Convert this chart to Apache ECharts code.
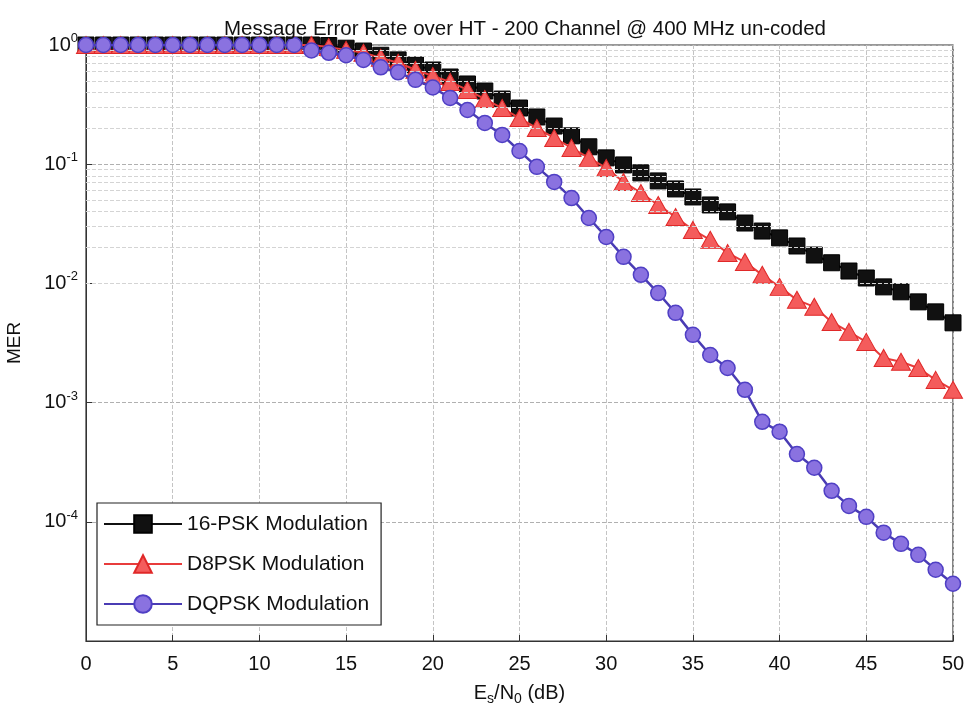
<!DOCTYPE html>
<html>
<head>
<meta charset="utf-8">
<script src="https://cdn.jsdelivr.net/npm/echarts@6/dist/echarts.min.js"></script>
<style>html,body{margin:0;padding:0;background:#fff}#c{width:975px;height:722px}</style>
</head>
<body>
<div id="c"></div>
<script>
const FONT = '"Liberation Sans", Arial, sans-serif';

const esn0 = [0,1,2,3,4,5,6,7,8,9,10,11,12,13,14,15,16,17,18,19,20,21,22,23,24,25,26,27,28,29,30,31,32,33,34,35,36,37,38,39,40,41,42,43,44,45,46,47,48,49,50];

const psk16 = [1,1,1,1,1,1,1,1,1,1,1,1,1,1,0.99,0.94,0.89,0.82,0.75,0.68,0.617,0.539,0.471,0.411,0.352,0.296,0.249,0.209,0.173,0.140,0.113,0.0986,0.0845,0.0724,0.062,0.0531,0.0455,0.0398,0.0321,0.0275,0.0241,0.0206,0.0173,0.0149,0.0127,0.0111,0.00935,0.0085,0.0070,0.00577,0.00467];

const d8psk = [1,1,1,1,1,1,1,1,1,1,1,1,1,1,0.96,0.91,0.86,0.78,0.71,0.62,0.55,0.49,0.42,0.352,0.296,0.244,0.201,0.166,0.137,0.113,0.093,0.071,0.0574,0.0455,0.0361,0.0281,0.0232,0.018,0.0151,0.0118,0.00935,0.00728,0.00636,0.00475,0.00392,0.00323,0.00237,0.0022,0.00195,0.00155,0.00128];

const dqpsk = [1,1,1,1,1,1,1,1,1,1,1,1,1,0.9,0.86,0.82,0.75,0.65,0.59,0.51,0.44,0.36,0.285,0.222,0.176,0.129,0.095,0.071,0.052,0.0354,0.0245,0.0167,0.0118,0.0083,0.00566,0.0037,0.00251,0.00195,0.00128,0.00069,0.00057,0.00037,0.000284,0.000182,0.000136,0.000110,0.000081,0.0000653,0.0000528,0.0000396,0.0000302];

const seriesNames = ['16-PSK Modulation', 'D8PSK Modulation', 'DQPSK Modulation'];

// minor log grid lines (2..9 x 10^k)
const minorLines = [];
for (let e = -5; e < 0; e++) {
  for (let k = 2; k <= 9; k++) minorLines.push({ yAxis: k * Math.pow(10, e) });
}

const pair = (arr) => esn0.map((x, i) => [x, arr[i]]);

const chart = echarts.init(document.getElementById('c'), null, { renderer: 'canvas' });
chart.setOption({
  animation: false,
  backgroundColor: '#fff',
  title: {
    text: 'Message Error Rate over HT - 200 Channel @ 400 MHz un-coded',
    left: 520, top: 14, textAlign: 'center',
    textStyle: { fontFamily: FONT, fontSize: 20.5, fontWeight: 'normal', color: '#111' }
  },
  grid: { left: 86, right: 22, top: 45, bottom: 81, show: true, borderColor: '#333', borderWidth: 1.2,
          backgroundColor: 'transparent', outerBoundsMode: 'none', containLabel: false },
  legend: {
    orient: 'vertical', left: 97, top: 503,
    backgroundColor: '#fff', borderColor: '#222', borderWidth: 1.2,
    padding: [7, 12, 7, 6], itemGap: 12, itemWidth: 78, itemHeight: 22,
    textStyle: { fontFamily: FONT, fontSize: 21, color: '#111', lineHeight: 28 },
    data: seriesNames
  },
  xAxis: {
    type: 'value', min: 0, max: 50, interval: 5,
    name: '{n|E}{sub|s}{n|/N}{sub|0}{n| (dB)}', nameLocation: 'middle', nameGap: 39,
    nameTextStyle: { rich: {
      n: { fontFamily: FONT, fontSize: 20, color: '#111' },
      sub: { fontFamily: FONT, fontSize: 14, color: '#111', padding: [12, 0, 0, 0] }
    } },
    axisLine: { show: true, lineStyle: { color: '#333' } },
    axisTick: { show: true, inside: true, length: 6, lineStyle: { color: '#333' } },
    axisLabel: { fontFamily: FONT, fontSize: 20, color: '#111', margin: 13 },
    splitLine: { show: true, lineStyle: { color: '#c4c4c4', type: 'dashed', width: 1 } }
  },
  yAxis: {
    type: 'log', logBase: 10, min: 1e-5, max: 1,
    name: 'MER', nameLocation: 'middle', nameGap: 62,
    nameTextStyle: { fontFamily: FONT, fontSize: 19, color: '#111' },
    axisLine: { show: true, lineStyle: { color: '#333' } },
    axisTick: { show: true, inside: true, length: 6, lineStyle: { color: '#333' } },
    axisLabel: {
      margin: 8,
      formatter: (v) => {
        const e = Math.round(Math.log10(v));
        if (e === -5) return '';
        return '{b|10}{s|' + e + '}';
      },
      rich: {
        b: { fontFamily: FONT, fontSize: 20, color: '#111' },
        s: { fontFamily: FONT, fontSize: 13, color: '#111', padding: [0, 0, 13, 0] }
      }
    },
    splitLine: { show: true, lineStyle: { color: '#b0b0b0', type: 'dashed', width: 1 } }
  },
  series: [
    {
      type: 'line', name: 'grid-minor', data: [], silent: true, z: 1,
      markLine: { silent: true, symbol: 'none', label: { show: false },
        lineStyle: { color: '#d4d4d4', type: 'dashed', width: 1 }, data: minorLines }
    },
    {
      name: seriesNames[0], type: 'line', data: pair(psk16),
      symbol: 'rect', symbolSize: 16,
      lineStyle: { color: '#111', width: 2 },
      itemStyle: { color: '#111', borderColor: '#000', borderWidth: 1 }, z: 3
    },
    {
      name: seriesNames[1], type: 'line', data: pair(d8psk),
      symbol: 'triangle', symbolSize: [19, 17],
      lineStyle: { color: '#e83c3c', width: 2 },
      itemStyle: { color: '#f45c5c', borderColor: '#e02828', borderWidth: 1 }, z: 4
    },
    {
      name: seriesNames[2], type: 'line', data: pair(dqpsk),
      symbol: 'circle', symbolSize: 15,
      lineStyle: { color: '#4a3cb4', width: 2.5 },
      itemStyle: { color: '#8a72e0', borderColor: '#4f3fc4', borderWidth: 1.5 }, z: 5
    }
  ]
});
</script>
</body>
</html>
